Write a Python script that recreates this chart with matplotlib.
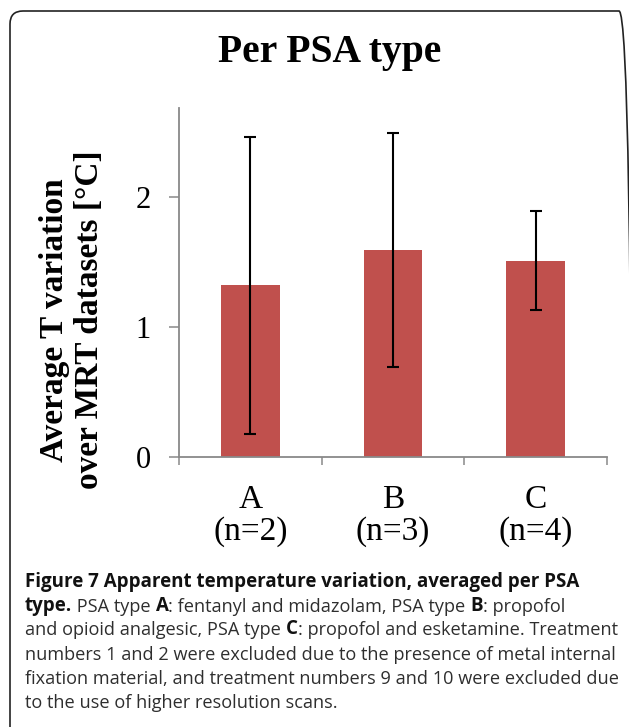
import numpy as np
import matplotlib
matplotlib.use('Agg')
import matplotlib.pyplot as plt
from matplotlib.patches import FancyBboxPatch
from matplotlib.transforms import IdentityTransform

# Data
categories = ['A', 'B', 'C']
n_counts = [2, 3, 4]
mean_var = [1.32, 1.59, 1.51]
err_var = [1.14, 0.90, 0.38]

caption_lines = [
    [("Figure 7 Apparent temperature variation, averaged per PSA", 'bold')],
    [("type.", 'bold'), (" PSA type ", 'normal'), ("A", 'bold'),
     (": fentanyl and midazolam, PSA type ", 'normal'), ("B", 'bold'),
     (": propofol", 'normal')],
    [("and opioid analgesic, PSA type ", 'normal'), ("C", 'bold'),
     (": propofol and esketamine. Treatment", 'normal')],
    [("numbers 1 and 2 were excluded due to the presence of metal internal", 'normal')],
    [("fixation material, and treatment numbers 9 and 10 were excluded due", 'normal')],
    [("to the use of higher resolution scans.", 'normal')],
]

W, H = 629, 727
fig = plt.figure(figsize=(W / 100, H / 100), dpi=100)
serif = 'Liberation Serif'
grey = '#898989'

# Chart axes
ax = fig.add_axes([179 / W, 1 - 457 / H, (607 - 179) / W, (457 - 108) / H])
x = np.arange(len(categories))
ax.bar(x, mean_var, width=0.41, color='#C0504D', zorder=2)
ax.errorbar(x, mean_var, yerr=err_var, fmt='none', ecolor='black',
            elinewidth=1.5, capsize=4.5, capthick=1.5, zorder=3)

ax.set_xlim(-0.5, 2.5)
ax.set_ylim(0, 2.685)
ax.set_yticks([0, 1, 2])
ax.set_yticklabels(['0', '1', '2'], fontfamily=serif, fontsize=22)
ax.tick_params(axis='y', direction='out', length=7.5, width=1.1,
               color=grey, pad=13)

ax.set_xticks([-0.5, 0.5, 1.5, 2.5])
ax.set_xticklabels([])
ax.set_xticks(x, minor=True)
ax.set_xticklabels([f'{c}\n(n={n})' for c, n in zip(categories, n_counts)],
                   minor=True, fontfamily=serif, fontsize=24, linespacing=1.05)
ax.tick_params(axis='x', which='major', direction='out', length=6, width=1.1,
               color=grey)
ax.tick_params(axis='x', which='minor', length=0, pad=20)

for s in ['top', 'right']:
    ax.spines[s].set_visible(False)
for s in ['left', 'bottom']:
    ax.spines[s].set_color(grey)
    ax.spines[s].set_linewidth(1.3)

# Title and y label
fig.text(330 / W, 1 - 62 / H, 'Per PSA type', fontfamily=serif,
         fontweight='bold', fontsize=28.5, ha='center', va='baseline')
fig.text(72 / W, 1 - 320 / H, 'Average T variation\nover MRT datasets [°C]',
         fontfamily=serif, fontweight='bold', fontsize=24, rotation=90,
         ha='center', va='center', multialignment='center', linespacing=1.2)

# Rounded frame (pixel coordinates), right side runs off the picture
frame = FancyBboxPatch((10, -30), 622, H - 11 + 30,
                       boxstyle='round,pad=0,rounding_size=13',
                       transform=IdentityTransform(), fill=False,
                       edgecolor='#222222', linewidth=1.2)
fig.patches.append(frame)

# Caption
cap = fig.add_axes([0, 0, 1, 1])
cap.set_xlim(0, W)
cap.set_ylim(H, 0)
cap.axis('off')
cap.patch.set_alpha(0)
base_y = 587
step = 24.2
sizes = {'normal': 13.1, 'bold': 13.5}
for i, parts in enumerate(caption_lines):
    y = base_y + i * step
    prev = None
    for text, weight in parts:
        col = '#111111' if weight == 'bold' else '#2e2e2e'
        if prev is None:
            prev = cap.text(25, y, text, fontfamily='Open Sans', fontsize=sizes[weight],
                            fontweight=weight, color=col, va='baseline', ha='left')
        else:
            prev = cap.annotate(text, xy=(1, 0), xycoords=prev, va='bottom',
                                ha='left', fontfamily='Open Sans', fontsize=sizes[weight],
                                fontweight=weight, color=col)

fig.savefig('out.png', dpi=100)
